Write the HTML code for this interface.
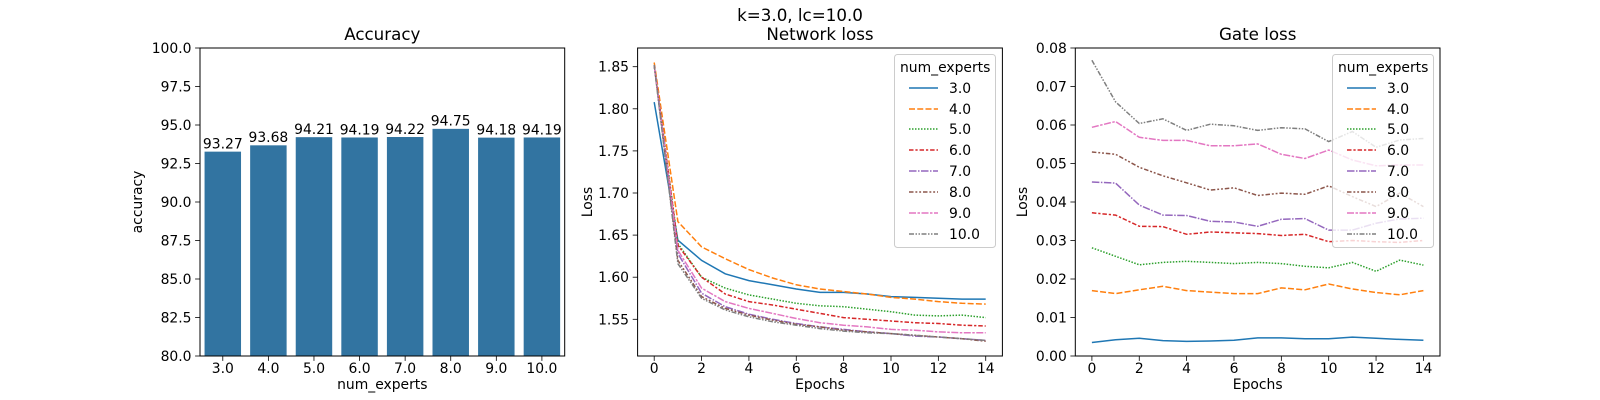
<!DOCTYPE html>
<html><head><meta charset="utf-8"><style>
html,body{margin:0;padding:0;background:#fff}
svg{display:block}
text{font-family:"DejaVu Sans","Liberation Sans",sans-serif;fill:#000}
.t{font-size:13.9px}
.ti{font-size:16.7px}
</style></head><body>
<svg id="s" width="1600" height="400" viewBox="0 0 1600 400" xmlns="http://www.w3.org/2000/svg">
<rect width="1600" height="400" fill="#fff"/>
<text class="ti" x="800" y="21" text-anchor="middle">k=3.0, lc=10.0</text>

<!-- Axis 1 -->
<g id="bars"></g>
<rect x="200" y="48" width="364.7" height="308" fill="none" stroke="#000" stroke-width="1"/>
<text class="ti" x="382.3" y="40" text-anchor="middle">Accuracy</text>
<g class="t" text-anchor="end">
<text x="191.5" y="361">80.0</text><text x="191.5" y="322.5">82.5</text><text x="191.5" y="284">85.0</text><text x="191.5" y="245.5">87.5</text><text x="191.5" y="207">90.0</text><text x="191.5" y="168.5">92.5</text><text x="191.5" y="130">95.0</text><text x="191.5" y="91.5">97.5</text><text x="191.5" y="53">100.0</text>
</g>
<g class="t" text-anchor="middle">
<text x="222.8" y="373">3.0</text><text x="268.4" y="373">4.0</text><text x="314" y="373">5.0</text><text x="359.6" y="373">6.0</text><text x="405.1" y="373">7.0</text><text x="450.7" y="373">8.0</text><text x="496.3" y="373">9.0</text><text x="541.9" y="373">10.0</text>
<text x="222.8" y="148.5">93.27</text><text x="268.4" y="142.2">93.68</text><text x="314" y="134">94.21</text><text x="359.6" y="134.3">94.19</text><text x="405.1" y="133.8">94.22</text><text x="450.7" y="125.7">94.75</text><text x="496.3" y="134.4">94.18</text><text x="541.9" y="134.3">94.19</text>
<text x="382.3" y="389">num_experts</text>
</g>
<text class="t" text-anchor="middle" transform="translate(142,202) rotate(-90)">accuracy</text>

<!-- Axis 2 -->
<g id="net"></g>
<rect x="637.6" y="48" width="364.8" height="308" fill="none" stroke="#000" stroke-width="1"/>
<text class="ti" x="820" y="40" text-anchor="middle">Network loss</text>
<g class="t" text-anchor="end">
<text x="629" y="324.3">1.55</text><text x="629" y="282.2">1.60</text><text x="629" y="240.1">1.65</text><text x="629" y="198">1.70</text><text x="629" y="155.9">1.75</text><text x="629" y="113.8">1.80</text><text x="629" y="71.7">1.85</text>
</g>
<g class="t" text-anchor="middle">
<text x="654.2" y="373">0</text><text x="701.6" y="373">2</text><text x="748.9" y="373">4</text><text x="796.3" y="373">6</text><text x="843.7" y="373">8</text><text x="891" y="373">10</text><text x="938.4" y="373">12</text><text x="985.8" y="373">14</text>
<text x="820" y="389">Epochs</text>
</g>
<text class="t" text-anchor="middle" transform="translate(592,202) rotate(-90)">Loss</text>

<!-- Axis 3 -->
<g id="gate"></g>
<rect x="1075.3" y="48" width="364.7" height="308" fill="none" stroke="#000" stroke-width="1"/>
<text class="ti" x="1257.7" y="40" text-anchor="middle">Gate loss</text>
<g class="t" text-anchor="end">
<text x="1066.8" y="361">0.00</text><text x="1066.8" y="322.5">0.01</text><text x="1066.8" y="284">0.02</text><text x="1066.8" y="245.5">0.03</text><text x="1066.8" y="207">0.04</text><text x="1066.8" y="168.5">0.05</text><text x="1066.8" y="130">0.06</text><text x="1066.8" y="91.5">0.07</text><text x="1066.8" y="53">0.08</text>
</g>
<g class="t" text-anchor="middle">
<text x="1091.9" y="373">0</text><text x="1139.3" y="373">2</text><text x="1186.6" y="373">4</text><text x="1234" y="373">6</text><text x="1281.4" y="373">8</text><text x="1328.7" y="373">10</text><text x="1376.1" y="373">12</text><text x="1423.5" y="373">14</text>
<text x="1257.7" y="389">Epochs</text>
</g>
<text class="t" text-anchor="middle" transform="translate(1027,202) rotate(-90)">Loss</text>

<!-- Legends -->
<g id="leg1">
<rect x="894.5" y="54.5" width="101" height="193" rx="3" fill="#fff" fill-opacity="0.8" stroke="#ccc"/>
<text class="t" x="900" y="72">num_experts</text>
<g class="t">
<text x="949" y="93">3.0</text><text x="949" y="114">4.0</text><text x="949" y="134">5.0</text><text x="949" y="155">6.0</text><text x="949" y="176">7.0</text><text x="949" y="197">8.0</text><text x="949" y="218">9.0</text><text x="949" y="239">10.0</text>
</g>
</g>
<g id="leg2">
<rect x="1332.5" y="54.5" width="101" height="193" rx="3" fill="#fff" fill-opacity="0.8" stroke="#ccc"/>
<text class="t" x="1338" y="72">num_experts</text>
<g class="t">
<text x="1387" y="93">3.0</text><text x="1387" y="114">4.0</text><text x="1387" y="134">5.0</text><text x="1387" y="155">6.0</text><text x="1387" y="176">7.0</text><text x="1387" y="197">8.0</text><text x="1387" y="218">9.0</text><text x="1387" y="239">10.0</text>
</g>
</g>
<g id="ticks"></g>
</svg>
<script>
var NS="http://www.w3.org/2000/svg";
function el(p,n,a){var e=document.createElementNS(NS,n);for(var k in a)e.setAttribute(k,a[k]);p.appendChild(e);return e;}
var cols=["#1f77b4","#ff7f0e","#2ca02c","#d62728","#9467bd","#8c564b","#e377c2","#7f7f7f"];
var dash=["none","6,2.25","1.5,1.5","4.5,1.9,2.25,1.9","7.5,1.5,1.5,1.5","4.5,1.9,1.9,1.9,1.9,1.9","7,1.5,2.5,1.5","5,1.5,1.5,1.5,1.5,1.5"];
var acc=[93.27,93.68,94.21,94.19,94.22,94.75,94.18,94.19],bw=364.7/8;
var bg=document.getElementById("bars");
acc.forEach(function(v,i){var y=356-(v-80)*15.4;el(bg,"rect",{x:200+(i+0.1)*bw,y:y,width:bw*0.8,height:356-y,fill:"#3274a1"});});
var net=[
[1.808,1.644,1.620,1.604,1.596,1.591,1.586,1.582,1.582,1.580,1.577,1.576,1.575,1.574,1.574],
[1.855,1.666,1.636,1.622,1.609,1.599,1.591,1.586,1.583,1.580,1.576,1.574,1.571,1.569,1.568],
[1.852,1.640,1.600,1.587,1.579,1.574,1.569,1.566,1.565,1.562,1.559,1.555,1.554,1.555,1.552],
[1.852,1.638,1.600,1.580,1.571,1.567,1.562,1.557,1.552,1.550,1.548,1.546,1.545,1.543,1.542],
[1.852,1.628,1.581,1.565,1.556,1.550,1.545,1.541,1.538,1.535,1.533,1.530,1.529,1.527,1.525],
[1.852,1.620,1.577,1.563,1.555,1.549,1.544,1.541,1.537,1.535,1.533,1.531,1.529,1.527,1.524],
[1.852,1.632,1.587,1.571,1.563,1.557,1.551,1.546,1.543,1.541,1.538,1.537,1.535,1.534,1.534],
[1.852,1.616,1.575,1.561,1.553,1.547,1.543,1.539,1.536,1.534,1.533,1.531,1.529,1.527,1.525]];
var gate=[
[.0035,.0042,.0046,.0040,.0038,.0039,.0041,.0047,.0047,.0045,.0045,.0049,.0046,.0043,.0041],
[.0170,.0162,.0172,.0181,.0170,.0166,.0162,.0162,.0177,.0172,.0187,.0174,.0165,.0159,.0170],
[.0281,.0259,.0237,.0243,.0246,.0243,.0240,.0243,.0240,.0233,.0229,.0243,.0220,.0249,.0236],
[.0372,.0366,.0337,.0336,.0316,.0322,.0320,.0318,.0313,.0316,.0297,.0300,.0297,.0295,.0300],
[.0452,.0449,.0392,.0366,.0365,.0350,.0348,.0337,.0355,.0357,.0327,.0327,.0345,.0356,.0358],
[.0530,.0524,.0490,.0468,.0450,.0431,.0437,.0417,.0423,.0420,.0442,.0414,.0388,.0423,.0388],
[.0594,.0609,.0568,.0560,.0560,.0546,.0546,.0551,.0524,.0513,.0535,.0509,.0494,.0496,.0496],
[.0768,.0660,.0604,.0616,.0586,.0602,.0598,.0586,.0593,.0590,.0557,.0583,.0542,.0561,.0565]];
function draw(gid,data,x0,fy,x1,x2){var g=document.getElementById(gid);
 var cp=el(g,"clipPath",{id:gid+"c"});el(cp,"rect",{x:x1,y:48,width:x2-x1,height:308});
 var gg=el(g,"g",{"clip-path":"url(#"+gid+"c)"});
 data.forEach(function(s,i){var d=s.map(function(v,j){return (j?"L":"M")+(x0+j*23.68).toFixed(1)+","+fy(v).toFixed(1);}).join("");
  var a={d:d,fill:"none",stroke:cols[i],"stroke-width":1.5};if(dash[i]!="none")a["stroke-dasharray"]=dash[i];el(gg,"path",a);});}
draw("net",net,654.2,function(v){return 66.7+(1.85-v)*842;},637.6,1002.4);
draw("gate",gate,1091.9,function(v){return 356-v*3850;},1075.3,1440);
function legl(gid,xa,xb){var g=document.getElementById(gid);
 for(var i=0;i<8;i++){var y=[88,109,129,150,171,192,213,234][i];var a={x1:xa,y1:y,x2:xb,y2:y,stroke:cols[i],"stroke-width":1.5};if(dash[i]!="none")a["stroke-dasharray"]=dash[i];el(g,"line",a);}}
legl("leg1",909,938);legl("leg2",1347,1376);
var tg=document.getElementById("ticks");
function tk(x1,y1,x2,y2){el(tg,"line",{x1:x1,y1:y1,x2:x2,y2:y2,stroke:"#000","stroke-width":0.8});}
for(var i=0;i<8;i++){var x=200+(i+0.5)*bw;tk(x,356,x,360.9);}
for(var i=0;i<9;i++){var y=356-i*38.5;tk(195.1,y,200,y);tk(1070.4,y,1075.3,y);}
for(var i=0;i<8;i++){var x=654.2+i*47.36;tk(x,356,x,360.9);x=1091.9+i*47.36;tk(x,356,x,360.9);}
for(var i=0;i<7;i++){var y=66.7+i*42.1;tk(632.7,y,637.6,y);}
</script>
</body></html>
